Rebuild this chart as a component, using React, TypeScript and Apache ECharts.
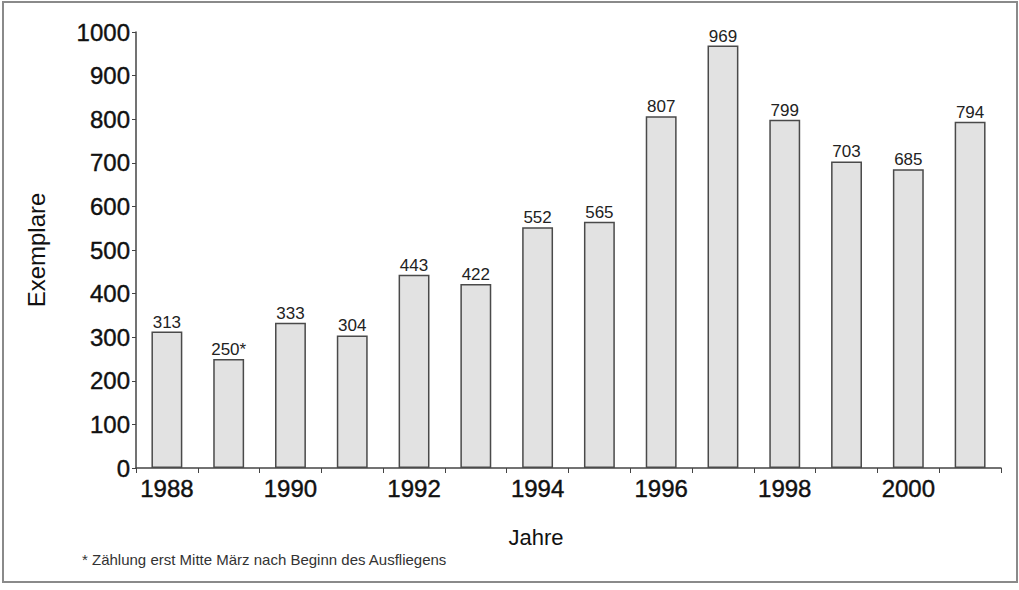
import React, { useEffect, useRef } from "react";
import * as echarts from "echarts";

const years = ["1988","1989","1990","1991","1992","1993","1994","1995","1996","1997","1998","1999","2000","2001"];
const values = [313, 250, 333, 304, 443, 422, 552, 565, 807, 969, 799, 703, 685, 794];
const valueLabels = ["313","250*","333","304","443","422","552","565","807","969","799","703","685","794"];
const yTicks = [0, 100, 200, 300, 400, 500, 600, 700, 800, 900, 1000];
const footnote = "* Zählung erst Mitte März nach Beginn des Ausfliegens";

export default function App() {
  const ref = useRef<HTMLDivElement>(null);
  useEffect(() => {
    const chart = echarts.init(ref.current!, null, { renderer: "svg" });
    const font = "'Liberation Sans', Arial, sans-serif";
    chart.setOption({
      animation: false,
      backgroundColor: "#fff",
      textStyle: { fontFamily: font },
      grid: { left: 136, right: 18, top: 32, bottom: 122, containLabel: false },
      graphic: [
        { type: "rect", shape: { x: 3, y: 2, width: 1014, height: 580 }, style: { fill: "none", stroke: "#8a8a8a", lineWidth: 2 } },
        { type: "text", x: 536, y: 537, style: { text: "Jahre", fontFamily: font, fontSize: 22, fill: "#111", align: "center", verticalAlign: "middle" } },
        { type: "text", x: 82, y: 559, style: { text: footnote, fontFamily: font, fontSize: 15, fill: "#333", align: "left", verticalAlign: "middle" } },
      ],
      xAxis: {
        type: "category",
        data: years,
        boundaryGap: true,
        axisLine: { show: true, lineStyle: { color: "#444", width: 1.5 } },
        axisTick: { show: true, alignWithLabel: false, interval: 0, length: 5, lineStyle: { color: "#444" } },
        axisLabel: { interval: 1, fontSize: 24, color: "#111", margin: 8, fontFamily: font, textBorderColor: "#111", textBorderWidth: 0.4 },
      },
      yAxis: {
        type: "value",
        min: 0,
        max: 1000,
        interval: 100,
        name: "Exemplare",
        nameLocation: "middle",
        nameGap: 88,
        nameRotate: 90,
        nameTextStyle: { fontSize: 24, color: "#111", fontFamily: font },
        axisLine: { show: true, lineStyle: { color: "#444", width: 1.5 } },
        axisTick: { show: true, length: 4, lineStyle: { color: "#444" } },
        axisLabel: { fontSize: 24, color: "#111", margin: 6, fontFamily: font, textBorderColor: "#111", textBorderWidth: 0.4, formatter: (v: number) => (yTicks.includes(v) ? String(v) : "") },
        splitLine: { show: false },
      },
      series: [
        {
          type: "bar",
          data: values,
          barWidth: "50%",
          itemStyle: { color: "#e2e2e2", borderColor: "#4a4a4a", borderWidth: 1.5 },
          label: {
            show: true,
            position: "top",
            distance: 1,
            fontSize: 17,
            color: "#222",
            fontFamily: font,
            formatter: (p: any) => valueLabels[p.dataIndex],
          },
        },
      ],
    });
    return () => chart.dispose();
  }, []);
  return <div ref={ref} style={{ position: "fixed", left: 0, top: 0, width: 1019, height: 590 }} />;
}
